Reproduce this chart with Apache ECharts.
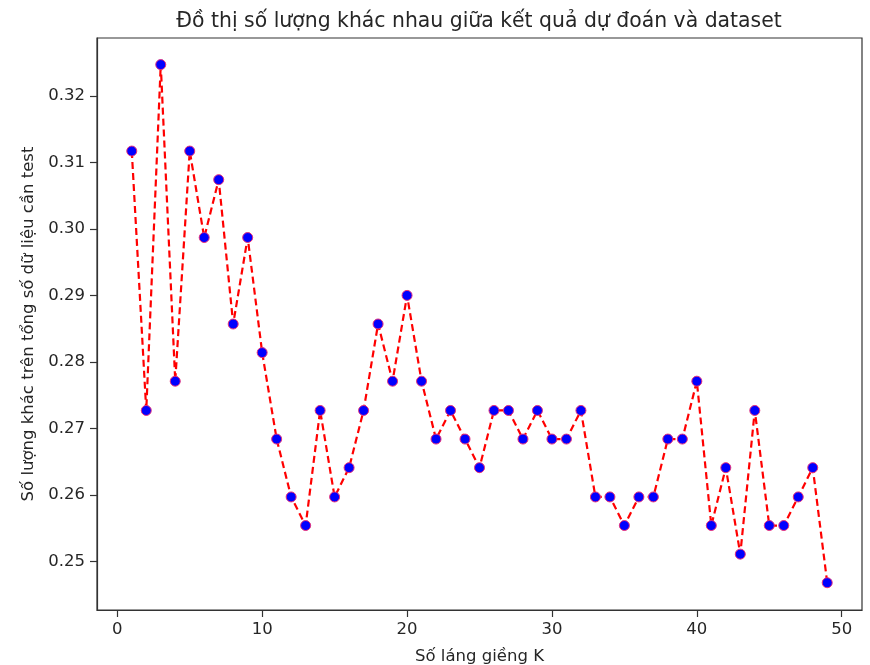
<!DOCTYPE html>
<html>
<head>
<meta charset="utf-8">
<script src="https://cdn.jsdelivr.net/npm/echarts@6/dist/echarts.min.js"></script>
<style>
  html, body { margin: 0; padding: 0; background: #fff; }
  #chart { width: 870px; height: 665px; }
</style>
</head>
<body>
<div id="chart"></div>
<script>
// so lang gieng K
const kValues = [1, 2, 3, 4, 5, 6, 7, 8, 9, 10, 11, 12, 13, 14, 15, 16, 17, 18, 19, 20,
  21, 22, 23, 24, 25, 26, 27, 28, 29, 30, 31, 32, 33, 34, 35, 36, 37, 38, 39, 40,
  41, 42, 43, 44, 45, 46, 47, 48, 49]
// ti le sai khac doc tu hinh
const errorRate = [0.3117, 0.2727, 0.3247, 0.2771, 0.3117, 0.2987, 0.3074, 0.2857, 0.2987, 0.2814,
  0.2684, 0.2597, 0.2554, 0.2727, 0.2597, 0.2641, 0.2727, 0.2857, 0.2771, 0.2900,
  0.2771, 0.2684, 0.2727, 0.2684, 0.2641, 0.2727, 0.2727, 0.2684, 0.2727, 0.2684,
  0.2684, 0.2727, 0.2597, 0.2597, 0.2554, 0.2597, 0.2597, 0.2684, 0.2684, 0.2771,
  0.2554, 0.2641, 0.2511, 0.2727, 0.2554, 0.2554, 0.2597, 0.2641, 0.2468]
const xTicks = [0, 10, 20, 30, 40, 50]
const yTicks = [0.25, 0.26, 0.27, 0.28, 0.29, 0.30, 0.31, 0.32]

const myChart = echarts.init(document.getElementById('chart'))
const font = 'DejaVu Sans'
const ink = '#262626'

const option = {
  animation: false,
  backgroundColor: '#fff',
  title: {
    text: 'Đồ thị số lượng khác nhau giữa kết quả dự đoán và dataset',
    left: 474,
    top: 7,
    textAlign: 'center',
    textStyle: { fontFamily: font, fontSize: 20.4, fontWeight: 'normal', color: ink }
  },
  grid: {
    left: 97, right: 8, top: 38, bottom: 55,
    outerBoundsMode: 'none',
    containLabel: false,
    show: true, borderColor: '#333', borderWidth: 1.2
  },
  xAxis: {
    type: 'value',
    min: -1.4,
    max: 51.4,
    name: 'Số láng giềng K',
    nameLocation: 'middle',
    nameGap: 38,
    nameTextStyle: { fontFamily: font, fontSize: 16.5, color: ink },
    axisLine: { show: true, onZero: false, lineStyle: { color: '#333', width: 1.2 } },
    splitLine: { show: false },
    axisTick: { show: true, inside: false, length: 7, customValues: xTicks, lineStyle: { color: '#333', width: 1.2 } },
    axisLabel: {
      customValues: xTicks, margin: 11,
      fontFamily: font, fontSize: 16.5, color: ink
    }
  },
  yAxis: {
    type: 'value',
    min: 0.2427,
    max: 0.3287,
    name: 'Số lượng khác trên tổng số dữ liệu cần test',
    nameLocation: 'middle',
    nameGap: 59,
    nameTextStyle: { fontFamily: font, fontSize: 16.5, color: ink },
    axisLine: { show: true, onZero: false, lineStyle: { color: '#333', width: 1.2 } },
    splitLine: { show: false },
    axisTick: { show: true, inside: false, length: 7, customValues: yTicks, lineStyle: { color: '#333', width: 1.2 } },
    axisLabel: {
      customValues: yTicks, margin: 12,
      fontFamily: font, fontSize: 16.5, color: ink,
      formatter: v => v.toFixed(2)
    }
  },
  series: [
    {
      type: 'line',
      data: kValues.map((k, i) => [k, errorRate[i]]),
      lineStyle: { color: '#ff0000', width: 2.2, type: [7, 4] },
      symbol: 'circle',
      symbolSize: 10,
      itemStyle: { color: '#0000ff', borderColor: '#e8307a', borderWidth: 1 }
    }
  ]
}

myChart.setOption(option)
</script>
</body>
</html>
